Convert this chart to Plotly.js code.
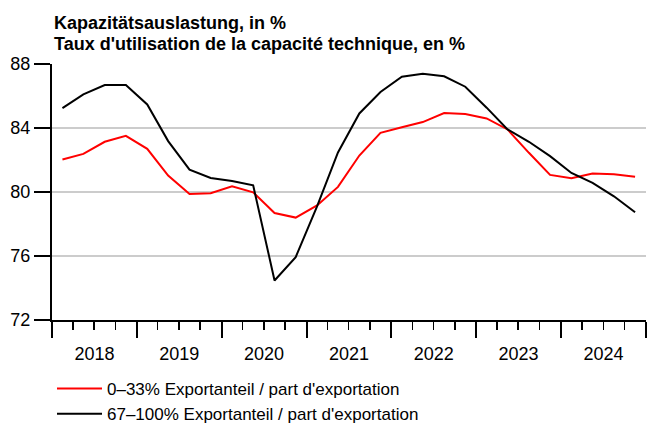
<!DOCTYPE html>
<html>
<head>
<meta charset="utf-8">
<script src="https://cdn.plot.ly/plotly-3.0.1.min.js"></script>
<style>html,body{margin:0;padding:0;background:#fff;}#chart{width:656px;height:424px;}</style>
</head>
<body>
<div id="chart"></div>
<script>
// Quarters 2018Q1 .. 2024Q4
const years = [2018,2018,2018,2018,2019,2019,2019,2019,2020,2020,2020,2020,2021,2021,2021,2021,2022,2022,2022,2022,2023,2023,2023,2023,2024,2024,2024,2024];
const quarters = [1,2,3,4,1,2,3,4,1,2,3,4,1,2,3,4,1,2,3,4,1,2,3,4,1,2,3,4];
const lowExport = [82.03,82.38,83.14,83.51,82.70,81.03,79.88,79.92,80.36,79.98,78.69,78.40,79.16,80.32,82.28,83.70,84.05,84.37,84.93,84.87,84.60,83.91,82.45,81.07,80.86,81.15,81.11,80.96];
const highExport = [85.24,86.10,86.68,86.68,85.47,83.18,81.40,80.88,80.69,80.42,74.47,75.93,79.10,82.47,84.91,86.25,87.21,87.39,87.23,86.58,85.27,83.91,83.14,82.24,81.19,80.57,79.73,78.73];
const seriesNames = ["0\u201333% Exportanteil / part d'exportation", "67\u2013100% Exportanteil / part d'exportation"];
const yTicks = [72,76,80,84,88];
const titleLines = ["Kapazitätsauslastung, in %", "Taux d'utilisation de la capacité technique, en %"];

// mid-quarter dates
const midMonth = ['02-15','05-16','08-16','11-15'];
const xDates = years.map((y,i)=> y + '-' + midMonth[quarters[i]-1]);

const FONT = 'Liberation Sans, Arial, Helvetica, sans-serif';

const traces = [
  {x:xDates, y:lowExport, name:seriesNames[0], type:'scatter', mode:'lines', line:{color:'#ff0000', width:2}},
  {x:xDates, y:highExport, name:seriesNames[1], type:'scatter', mode:'lines', line:{color:'#000000', width:2}}
];

const layout = {
  width:656, height:424,
  margin:{l:52, r:10, t:64, b:104, autoexpand:false},
  paper_bgcolor:'#ffffff', plot_bgcolor:'#ffffff',
  font:{family:FONT, size:18, color:'#000'},
  annotations:[
    {text:'<b>'+titleLines[0]+'</b>', xref:'paper', x:0, xanchor:'left', yref:'paper', y:1.160, yanchor:'middle', showarrow:false, font:{family:FONT, size:18, color:'#000'}},
    {text:'<b>'+titleLines[1]+'</b>', xref:'paper', x:0, xanchor:'left', yref:'paper', y:1.079, yanchor:'middle', showarrow:false, font:{family:FONT, size:18, color:'#000'}}
  ],
  showlegend:true,
  legend:{orientation:'v', x:0, xanchor:'left', xref:'paper', y:1-371/424, yref:'container', yanchor:'top', itemwidth:45,
          font:{family:FONT, size:17}, bgcolor:'rgba(0,0,0,0)', tracegroupgap:0},
  xaxis:{type:'date', range:['2018-01-01','2025-01-01'], tick0:'2018-01-01', dtick:'M12', tickformat:'%Y', ticklabelmode:'period',
         ticks:'outside', ticklen:16, tickwidth:2, tickcolor:'#000', showline:true, linewidth:2, linecolor:'#000',
         showgrid:false, zeroline:false, tickfont:{family:FONT, size:18},
         minor:{dtick:'M3', tick0:'2018-01-01', ticks:'outside', ticklen:8, tickwidth:1.5, tickcolor:'#000', showgrid:false}},
  yaxis:{range:[72,88], tickvals:yTicks, ticktext:yTicks.map(String), ticks:'outside', ticklen:16, tickwidth:2, tickcolor:'#000',
         showline:true, linewidth:2, linecolor:'#000', showgrid:true, gridcolor:'#cccccc', gridwidth:1.5, zeroline:false,
         tickfont:{family:FONT, size:18}}
};

Plotly.newPlot('chart', traces, layout, {displayModeBar:false, staticPlot:true});
</script>
</body>
</html>
